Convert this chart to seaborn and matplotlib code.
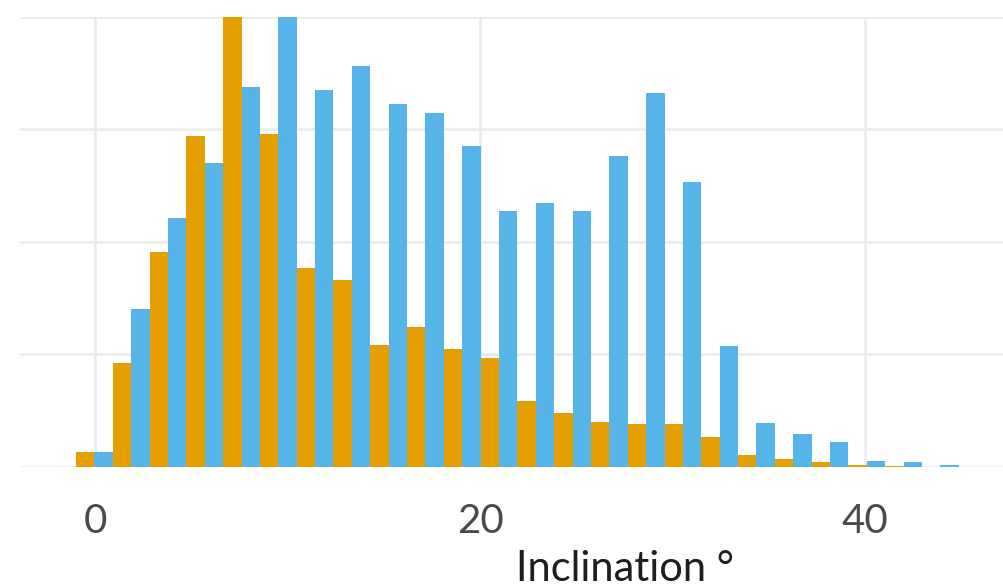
import numpy as np
import pandas as pd
import matplotlib
matplotlib.use("Agg")
import matplotlib.pyplot as plt
import seaborn as sns

# Histogram of inclination for two populations (bin width 1.91 degrees)
bin_centers = [0.0, 1.9, 3.8, 5.7, 7.6, 9.5, 11.5, 13.4, 15.3, 17.2, 19.1, 21.0,
               22.9, 24.8, 26.7, 28.6, 30.5, 32.5, 34.4, 36.3, 38.2, 40.1, 42.0, 43.9]
counts_orange = [13, 92, 191, 294, 400, 296, 177, 166, 108, 124, 105, 97,
                 59, 48, 40, 38, 38, 27, 11, 7, 4, 2, 1, 0]
counts_blue = [13, 140, 221, 270, 337, 400, 335, 356, 322, 314, 285, 227,
               234, 227, 276, 332, 253, 107, 39, 29, 22, 5, 4, 2]
groups = ["Population A", "Population B"]
colors = ["#E69F00", "#56B4E9"]
x_ticks = [0, 20, 40]
y_grid = [0, 100, 200, 300, 400]
bin_width = 1.91
bin_start = -0.99

df = pd.DataFrame({
    "inclination": bin_centers * 2,
    "count": counts_orange + counts_blue,
    "group": [groups[0]] * len(bin_centers) + [groups[1]] * len(bin_centers),
})

sns.set_theme(style="whitegrid")
plt.rcParams["font.family"] = ["Lato", "DejaVu Sans"]

fig = plt.figure(figsize=(10.04, 5.87), dpi=100)
ax = fig.add_axes([20 / 1004, (587 - 467) / 587, 984 / 1004, (467 - 16.5) / 587])

sns.histplot(data=df, x="inclination", weights="count", hue="group",
             hue_order=groups, palette=colors, binwidth=bin_width,
             binrange=(bin_start, bin_start + bin_width * len(bin_centers)),
             multiple="dodge", shrink=1, alpha=1, linewidth=0,
             legend=False, ax=ax)

ax.set_xlim(-3.9, 47.2)
ax.set_ylim(0, 400)
ax.set_xticks(x_ticks)
ax.set_yticks(y_grid)
ax.set_yticklabels([])
ax.set_ylabel("")
ax.grid(True, color="#ebebeb", linewidth=1.8)
ax.set_axisbelow(True)
for s in ax.spines.values():
    s.set_visible(False)
ax.tick_params(axis="x", length=0, pad=26, labelsize=29, labelcolor="#4a4a4a")
ax.tick_params(axis="y", length=0)

ax.set_xlabel("Inclination °", fontsize=30, color="#1e1e1e")
ax.xaxis.set_label_coords((625 - 20) / 984, -0.185)

fig.savefig("out.png", dpi=100, facecolor="white")
